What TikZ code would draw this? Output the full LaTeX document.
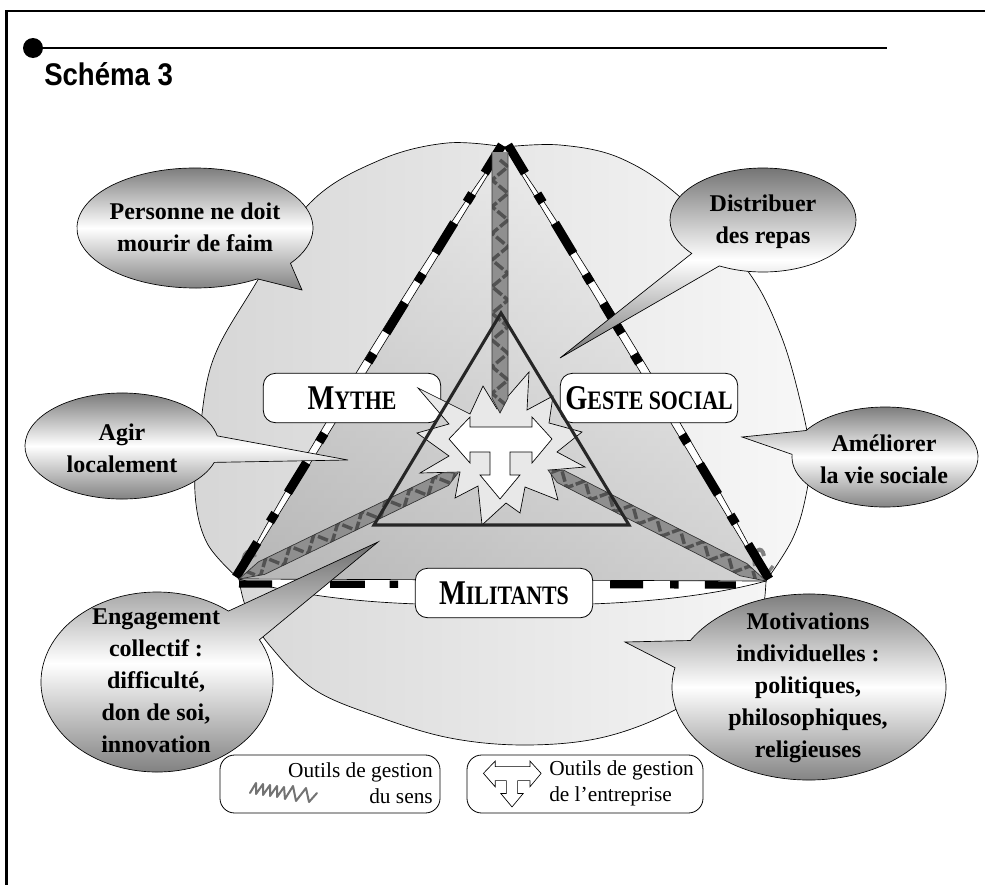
\documentclass[tikz,border=0pt]{standalone}
\usepackage{fontspec}
\setmainfont{Liberation Serif}
\newfontfamily\headfont{Liberation Sans}
\usetikzlibrary{calc,decorations.pathmorphing}
\tikzset{
  bubble/.style={draw=black, line width=0.5pt, top color=black!58, bottom color=black!55, middle color=white},
  btext/.style={align=center, font=\bfseries\fontsize{18}{24}\selectfont, inner sep=0pt},
  labelbox/.style={draw, fill=white, rounded corners=9pt, line width=0.6pt, minimum width=133pt, minimum height=37pt, inner sep=0pt},
  legbox/.style={draw, fill=white, rounded corners=11pt, line width=0.6pt, minimum height=43.5pt},
  legtext/.style={font=\fontsize{16}{19.5}\selectfont, inner sep=0pt},
  sensband/.style={fill=black!44},
  sensline/.style={draw=black!80, line width=0.5pt},
  stripes/.style={draw=black!68, line width=2.6pt, dash pattern=on 8pt off 2pt, decorate, decoration={zigzag, segment length=20pt, amplitude=6pt}},
  sidedash/.style={line width=6.75pt},
  basedash/.style={line width=5.5pt},
}
\newcommand\bubbleshape[8]{\path[bubble] ($(#1,#2)+(#5:#3 and #4)$) arc[start angle=#5, end angle=#6, x radius=#3, y radius=#4] -- (#7,#8) -- cycle;}
\begin{document}
\begin{tikzpicture}[x=0.75pt, y=-0.75pt]
\useasboundingbox (0,0) rectangle (985,885);
% frame and header
\draw[line width=2.2pt] (6.5,885) -- (6.5,11) -- (985,11);
\fill (33,48) circle (10);
\draw[line width=1.1pt] (33,48) -- (887,48);
\node[anchor=base west, inner sep=0pt, font=\headfont\bfseries\fontsize{23.5}{23.5}\selectfont] (title) at (44,85) {\scalebox{0.88}[1]{Schéma 3}};
% main vertices
\coordinate (A) at (505,147);
\coordinate (L) at (239,579);
\coordinate (R) at (766,581);
% lobes
\path[draw, line width=0.5pt, left color=black!16, right color=black!3]
  plot[smooth, tension=0.6] coordinates {(239,579) (207,543) (195,493) (200,430) (213,360) (250,293) (310,203) (380,160) (447,143) (505,147)}
  -- plot[smooth, tension=0.6] coordinates {(505,147) (560,145) (620,158) (680,197) (747,270) (780,333) (800,400) (810,455) (805,500) (792,540) (766,581)}
  -- plot[smooth, tension=0.6] coordinates {(766,581) (758,630) (725,675) (669,713) (600,738) (524,745) (450,738) (379,717) (315,690) (271,647) (247,610) (239,579)}
  -- cycle;
% triangle interior
\path[top color=black!4, bottom color=black!27] (A) -- (L) -- (R) -- cycle;
\path[left color=black!32, right color=white, opacity=0.35] (A) -- (L) -- (R) -- cycle;
% white band under the base
\fill[white] (L) .. controls (300,596) and (360,602) .. (418,604) -- (590,604) .. controls (650,602) and (715,595) .. (R) -- cycle;
\draw[line width=0.5pt] (L) .. controls (300,596) and (360,602) .. (418,604) -- (590,604) .. controls (650,602) and (715,595) .. (R);
% small grey hooks at the vertices
\draw[black!50, line width=3pt] (244,568) .. controls (240,552) and (252,546) .. (255,557);
\draw[black!50, line width=3pt] (755,566) .. controls (752,550) and (762,544) .. (764,556);
\draw[black!50, line width=2.5pt] (764,578) -- (773,566);
% side edges (lens)
\path[fill=white, draw=black, line width=0.45pt] (A) -- (L) .. controls (261.5,521.4) and (463.7,193.0) .. (A) -- cycle;
\path[fill=white, draw=black, line width=0.45pt] (A) -- (R) .. controls (744.1,523.2) and (545.7,193.5) .. (A) -- cycle;
\draw[line width=0.5pt] (L) -- (R);
% dashes
\coordinate (A1) at (502,145);
\coordinate (L1) at (236,577);
\coordinate (A2) at (508,145);
\coordinate (R2) at (769,579);
\foreach \a/\b in {0/0.065, 0.18/0.25, 0.365/0.435, 0.55/0.62, 0.735/0.805, 0.92/1.0,
                   0.1125/0.1325, 0.2975/0.3175, 0.4825/0.5025, 0.6675/0.6875, 0.8525/0.8725} {
  \draw[sidedash] ($(A1)!\a!(L1)$) -- ($(A1)!\b!(L1)$);
  \draw[sidedash] ($(A2)!\a!(R2)$) -- ($(A2)!\b!(R2)$);
}
\coordinate (B1) at (239,584);
\coordinate (B2) at (766,585);
\foreach \a/\b in {0/0.063, 0.173/0.239, 0.286/0.302, 0.704/0.767, 0.818/0.834, 0.884/0.943} {
  \draw[basedash] ($(B1)!\a!(B2)$) -- ($(B1)!\b!(B2)$);
}
% label boxes
\node[labelbox] (mythe) at (352,398) {\scalebox{0.82}[1]{\bfseries\fontsize{26}{26}\selectfont M\fontsize{20}{20}\selectfont YTHE}};
\node[labelbox] (geste) at (649,398) {\scalebox{0.82}[1]{\bfseries\fontsize{26}{26}\selectfont G\fontsize{20}{20}\selectfont ESTE SOCIAL}};
\node[labelbox] (militants) at (504,593) {\scalebox{0.82}[1]{\bfseries\fontsize{26}{26}\selectfont M\fontsize{20}{20}\selectfont ILITANTS}};
% star
\draw[fill=black!9, line width=0.5pt] (418,388) -- (470,414) -- (483,386) -- (497,409) -- (529,372) -- (527,410) -- (553,396) -- (549,423) -- (582,432) -- (557,452) -- (585,467) -- (550,470) -- (558,500) -- (525,487) -- (520,513) -- (506,503) -- (482,525) -- (478,486) -- (455,498) -- (460,472) -- (420,473) -- (449,456) -- (417,433) -- (449,424) -- cycle;
% sens bands
\fill[sensband] (492,152) -- (508,152) -- (508,398) -- (500,413) -- (492,398) -- cycle;
\begin{scope}
\clip (492,152) -- (508,152) -- (508,398) -- (500,413) -- (492,398) -- cycle;
\draw[stripes] (500,160) -- (500,415);
\end{scope}
\draw[sensline] (492,152) -- (492,398) -- (500,413) -- (508,398) -- (508,152);
\fill[sensband] (L) -- (258.5,561.8) -- (442.3,472.8) -- (458,473) -- (448.5,485.4) -- (264.6,574.4) -- cycle;
\begin{scope}
\clip (L) -- (258.5,561.8) -- (442.3,472.8) -- (458,473) -- (448.5,485.4) -- (264.6,574.4) -- cycle;
\draw[stripes, decoration={amplitude=5.5pt}] (L) -- (458,473);
\end{scope}
\draw[sensline] (L) -- (258.5,561.8) -- (442.3,472.8) -- (458,473) -- (448.5,485.4) -- (264.6,574.4) -- cycle;
\fill[sensband] (R) -- (746.9,563.5) -- (563.7,470.2) -- (548,470) -- (557.3,482.6) -- (740.5,575.9) -- cycle;
\begin{scope}
\clip (R) -- (746.9,563.5) -- (563.7,470.2) -- (548,470) -- (557.3,482.6) -- (740.5,575.9) -- cycle;
\draw[stripes, decoration={amplitude=5.5pt}] (R) -- (548,470);
\end{scope}
\draw[sensline] (R) -- (746.9,563.5) -- (563.7,470.2) -- (548,470) -- (557.3,482.6) -- (740.5,575.9) -- cycle;
% inner triangle
\draw[line width=2.3pt, black!85, line join=miter] (501,313) -- (374,525) -- (629,525) -- cycle;
% T arrow
\draw[fill=white, line width=0.5pt, shift={(500,458)}] (-51,-19) -- (-30,-41) -- (-30,-31) -- (32,-31) -- (32,-41) -- (52,-19) -- (32,5) -- (32,-6) -- (10,-6) -- (10,17) -- (20,17) -- (0,41) -- (-20,17) -- (-10,17) -- (-10,-6) -- (-30,-6) -- (-30,5) -- cycle;
% bubbles
\bubbleshape{195}{228}{118}{60}{58}{396}{302}{290}
\node[btext] (personne) at (195,227) {Personne ne doit\\mourir de faim};
\bubbleshape{763}{220}{93}{52}{140}{478}{560}{358}
\node[btext] (distribuer) at (763,222) {Distribuer\\des repas};
\bubbleshape{122}{446}{97}{53}{18}{349}{348}{460}
\node[btext] (agir) at (122,448) {Agir\\localement};
\bubbleshape{885}{457}{93}{50}{212}{543}{742}{437}
\node[btext] (ameliorer) at (884,459) {Améliorer\\la vie sociale};
\bubbleshape{157}{682}{116}{90}{332}{668}{378}{542}
\node[btext] (engagement) at (156,681) {Engagement\\collectif :\\difficulté,\\don de soi,\\innovation};
\bubbleshape{809}{687}{137}{93}{210}{552}{625}{642}
\node[btext] (motivations) at (808,688) {Motivations\\individuelles :\\politiques,\\philosophiques,\\religieuses};
% legend
\node[legbox, minimum width=165pt] (leg1) at (330,784) {};
\node[legtext, align=right, anchor=east] (leg1t) at (433,783) {Outils de gestion\\du sens};
\draw[black!55, line width=1.5pt, line join=round, line cap=round] (250,793) -- (256,783) -- (256,794) -- (263,784) -- (263,795) -- (270,785) -- (270,796) -- (277,786) -- (277,797) -- (284,787) -- (285,799) -- (293,786) -- (296,801) -- (306,788) -- (309,802) -- (317,793);
\node[legbox, minimum width=177pt] (leg2) at (585,784) {};
\node[legtext, align=left, anchor=west] (leg2t) at (549,783) {Outils de gestion\\de l’entreprise};
\draw[fill=white, line width=0.5pt, shift={(512,784)}, scale=0.56] (-51,-19) -- (-30,-41) -- (-30,-31) -- (32,-31) -- (32,-41) -- (52,-19) -- (32,5) -- (32,-6) -- (10,-6) -- (10,17) -- (20,17) -- (0,41) -- (-20,17) -- (-10,17) -- (-10,-6) -- (-30,-6) -- (-30,5) -- cycle;
\end{tikzpicture}
\end{document}
